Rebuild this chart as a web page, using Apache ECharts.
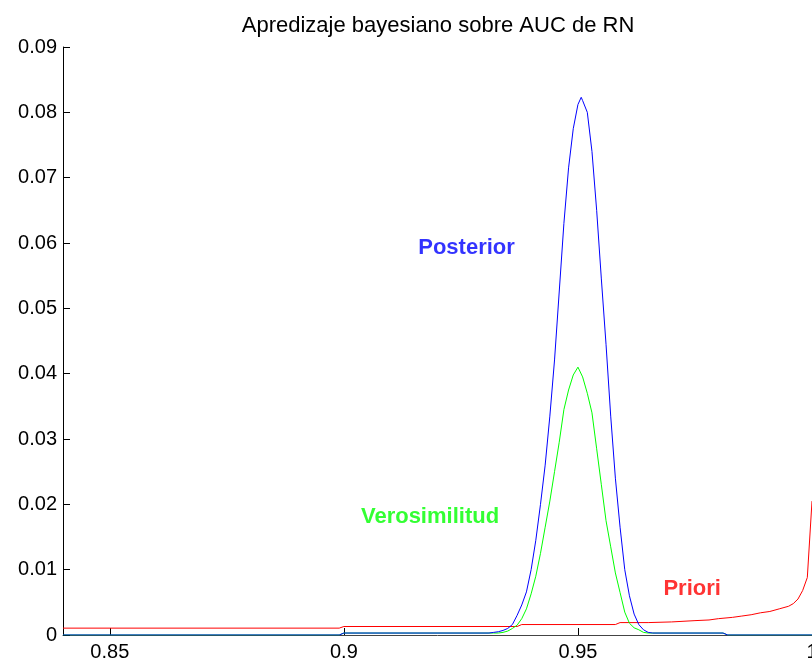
<!DOCTYPE html>
<html>
<head>
<meta charset="utf-8">
<script src="https://cdn.jsdelivr.net/npm/echarts@6/dist/echarts.min.js"></script>
<style>
html,body{margin:0;padding:0;background:#fff;}
#chart{width:812px;height:663px;}
</style>
</head>
<body>
<div id="chart"></div>
<script>
// ---- data ----
const titleText = 'Apredizaje bayesiano sobre AUC de RN';
const xTickValues = [0.85, 0.9, 0.95, 1.0];
const yTickLabels = ['0','0.01','0.02','0.03','0.04','0.05','0.06','0.07','0.08','0.09'];

// Priori (red)
const prioriX = [0.840, 0.899, 0.900, 0.937, 0.938, 0.958, 0.959, 0.965, 0.970, 0.975, 0.978, 0.980, 0.983, 0.985, 0.987, 0.989, 0.991, 0.993, 0.995, 0.996, 0.997, 0.998, 0.999, 1.000];
const prioriY = [0.00105, 0.00105, 0.0013, 0.0013, 0.0016, 0.0016, 0.0019, 0.0019, 0.0020, 0.0022, 0.0023, 0.0025, 0.0027, 0.0029, 0.0031, 0.0034, 0.0036, 0.0040, 0.0044, 0.0048, 0.0055, 0.0068, 0.0088, 0.0205];

// Verosimilitud (green)
const veroX = [0.840, 0.899, 0.900, 0.931, 0.932, 0.933, 0.934, 0.935, 0.936, 0.937, 0.938, 0.939, 0.940, 0.941, 0.942, 0.943, 0.944, 0.945, 0.946, 0.947, 0.948, 0.949, 0.950, 0.951, 0.952, 0.953, 0.954, 0.955, 0.956, 0.957, 0.958, 0.959, 0.960, 0.961, 0.962, 0.963, 0.964, 0.965, 0.966, 0.981, 0.982, 1.000];
const veroY = [0, 0, 0.0003, 0.0003, 0.0003, 0.0003, 0.0004, 0.0006, 0.0010, 0.0015, 0.0025, 0.0040, 0.0063, 0.0090, 0.0125, 0.0165, 0.0205, 0.0250, 0.0295, 0.0345, 0.0375, 0.0398, 0.0410, 0.0395, 0.0370, 0.0340, 0.0285, 0.0230, 0.0175, 0.0135, 0.0095, 0.0065, 0.0035, 0.0018, 0.0011, 0.0008, 0.0004, 0.0003, 0.0003, 0.0003, 0, 0];

// Posterior (blue)
const postX = [0.840, 0.899, 0.900, 0.931, 0.932, 0.933, 0.934, 0.935, 0.936, 0.937, 0.938, 0.939, 0.940, 0.941, 0.942, 0.943, 0.944, 0.945, 0.946, 0.947, 0.948, 0.949, 0.950, 0.9507, 0.951, 0.952, 0.953, 0.954, 0.955, 0.956, 0.957, 0.958, 0.959, 0.960, 0.961, 0.962, 0.963, 0.964, 0.965, 0.966, 0.981, 0.982, 1.000];
const postY = [0, 0, 0.0003, 0.0003, 0.0004, 0.0005, 0.0007, 0.0010, 0.0016, 0.0030, 0.0046, 0.0066, 0.0100, 0.0145, 0.0200, 0.0260, 0.0335, 0.0421, 0.0525, 0.0630, 0.0715, 0.0775, 0.0812, 0.0823, 0.0818, 0.0800, 0.0740, 0.0650, 0.0545, 0.0445, 0.0335, 0.0240, 0.0165, 0.0100, 0.0060, 0.0032, 0.0016, 0.0008, 0.0004, 0.0003, 0.0003, 0, 0];

// text annotations (data coordinates of label centres)
const annoNames  = ['Posterior', 'Verosimilitud', 'Priori'];
const annoX      = [0.9262, 0.9184, 0.9744];
const annoY      = [0.0592, 0.0181, 0.0070];
const annoColors = ['#0000ff', '#00ff00', '#ff0000'];

const zip = (xs, ys) => xs.map((x, i) => [x, ys[i]]);

const chart = echarts.init(document.getElementById('chart'), null, {renderer: 'canvas'});
const FONT = '"Liberation Sans", Arial, sans-serif';

chart.setOption({
  animation: false,
  backgroundColor: '#ffffff',
  title: {
    text: titleText,
    left: 433, top: 10, textAlign: 'center',
    textStyle: {fontFamily: FONT, fontSize: 22, fontWeight: 'normal', color: '#000'}
  },
  grid: {left: 63, right: 0, top: 47, bottom: 28, containLabel: false, outerBoundsMode: 'none'},
  xAxis: {
    type: 'value', min: 0.84, max: 1.0,
    axisLine: {show: true, onZero: false, lineStyle: {color: '#444', width: 1}},
    axisTick: {show: true, inside: true, length: 7, customValues: xTickValues, lineStyle: {color: '#000'}},
    axisLabel: {show: true, customValues: xTickValues, margin: 7, fontFamily: FONT, fontSize: 20, color: '#000',
      formatter: v => String(Math.round(v * 100) / 100)},
    splitLine: {show: false}
  },
  yAxis: {
    type: 'value', min: 0, max: 0.09, interval: 0.01,
    axisLine: {show: true, lineStyle: {color: '#000', width: 1}},
    axisTick: {show: true, inside: true, length: 7, lineStyle: {color: '#000'}},
    axisLabel: {show: true, margin: 6, fontFamily: FONT, fontSize: 20, color: '#000',
      formatter: (v) => yTickLabels[Math.round(v * 100)]},
    splitLine: {show: false}
  },
  series: [
    {name: 'Priori', type: 'line', data: zip(prioriX, prioriY), showSymbol: false, symbol: 'none',
      lineStyle: {color: '#ff0000', width: 1}, z: 2},
    {name: 'Verosimilitud', type: 'line', data: zip(veroX, veroY), showSymbol: false, symbol: 'none',
      lineStyle: {color: '#00ff00', width: 1}, z: 3},
    {name: 'Posterior', type: 'line', data: zip(postX, postY), showSymbol: false, symbol: 'none',
      lineStyle: {color: '#0000ff', width: 1}, z: 4},
    {name: 'labels', type: 'scatter', symbolSize: 0, silent: true, z: 5,
      data: annoNames.map((n, i) => ({name: n, value: [annoX[i], annoY[i]],
        label: {show: true, position: 'inside', formatter: n, color: annoColors[i],
          fontFamily: FONT, fontSize: 22, fontWeight: 'bold'}}))}
  ]
});
</script>
</body>
</html>
